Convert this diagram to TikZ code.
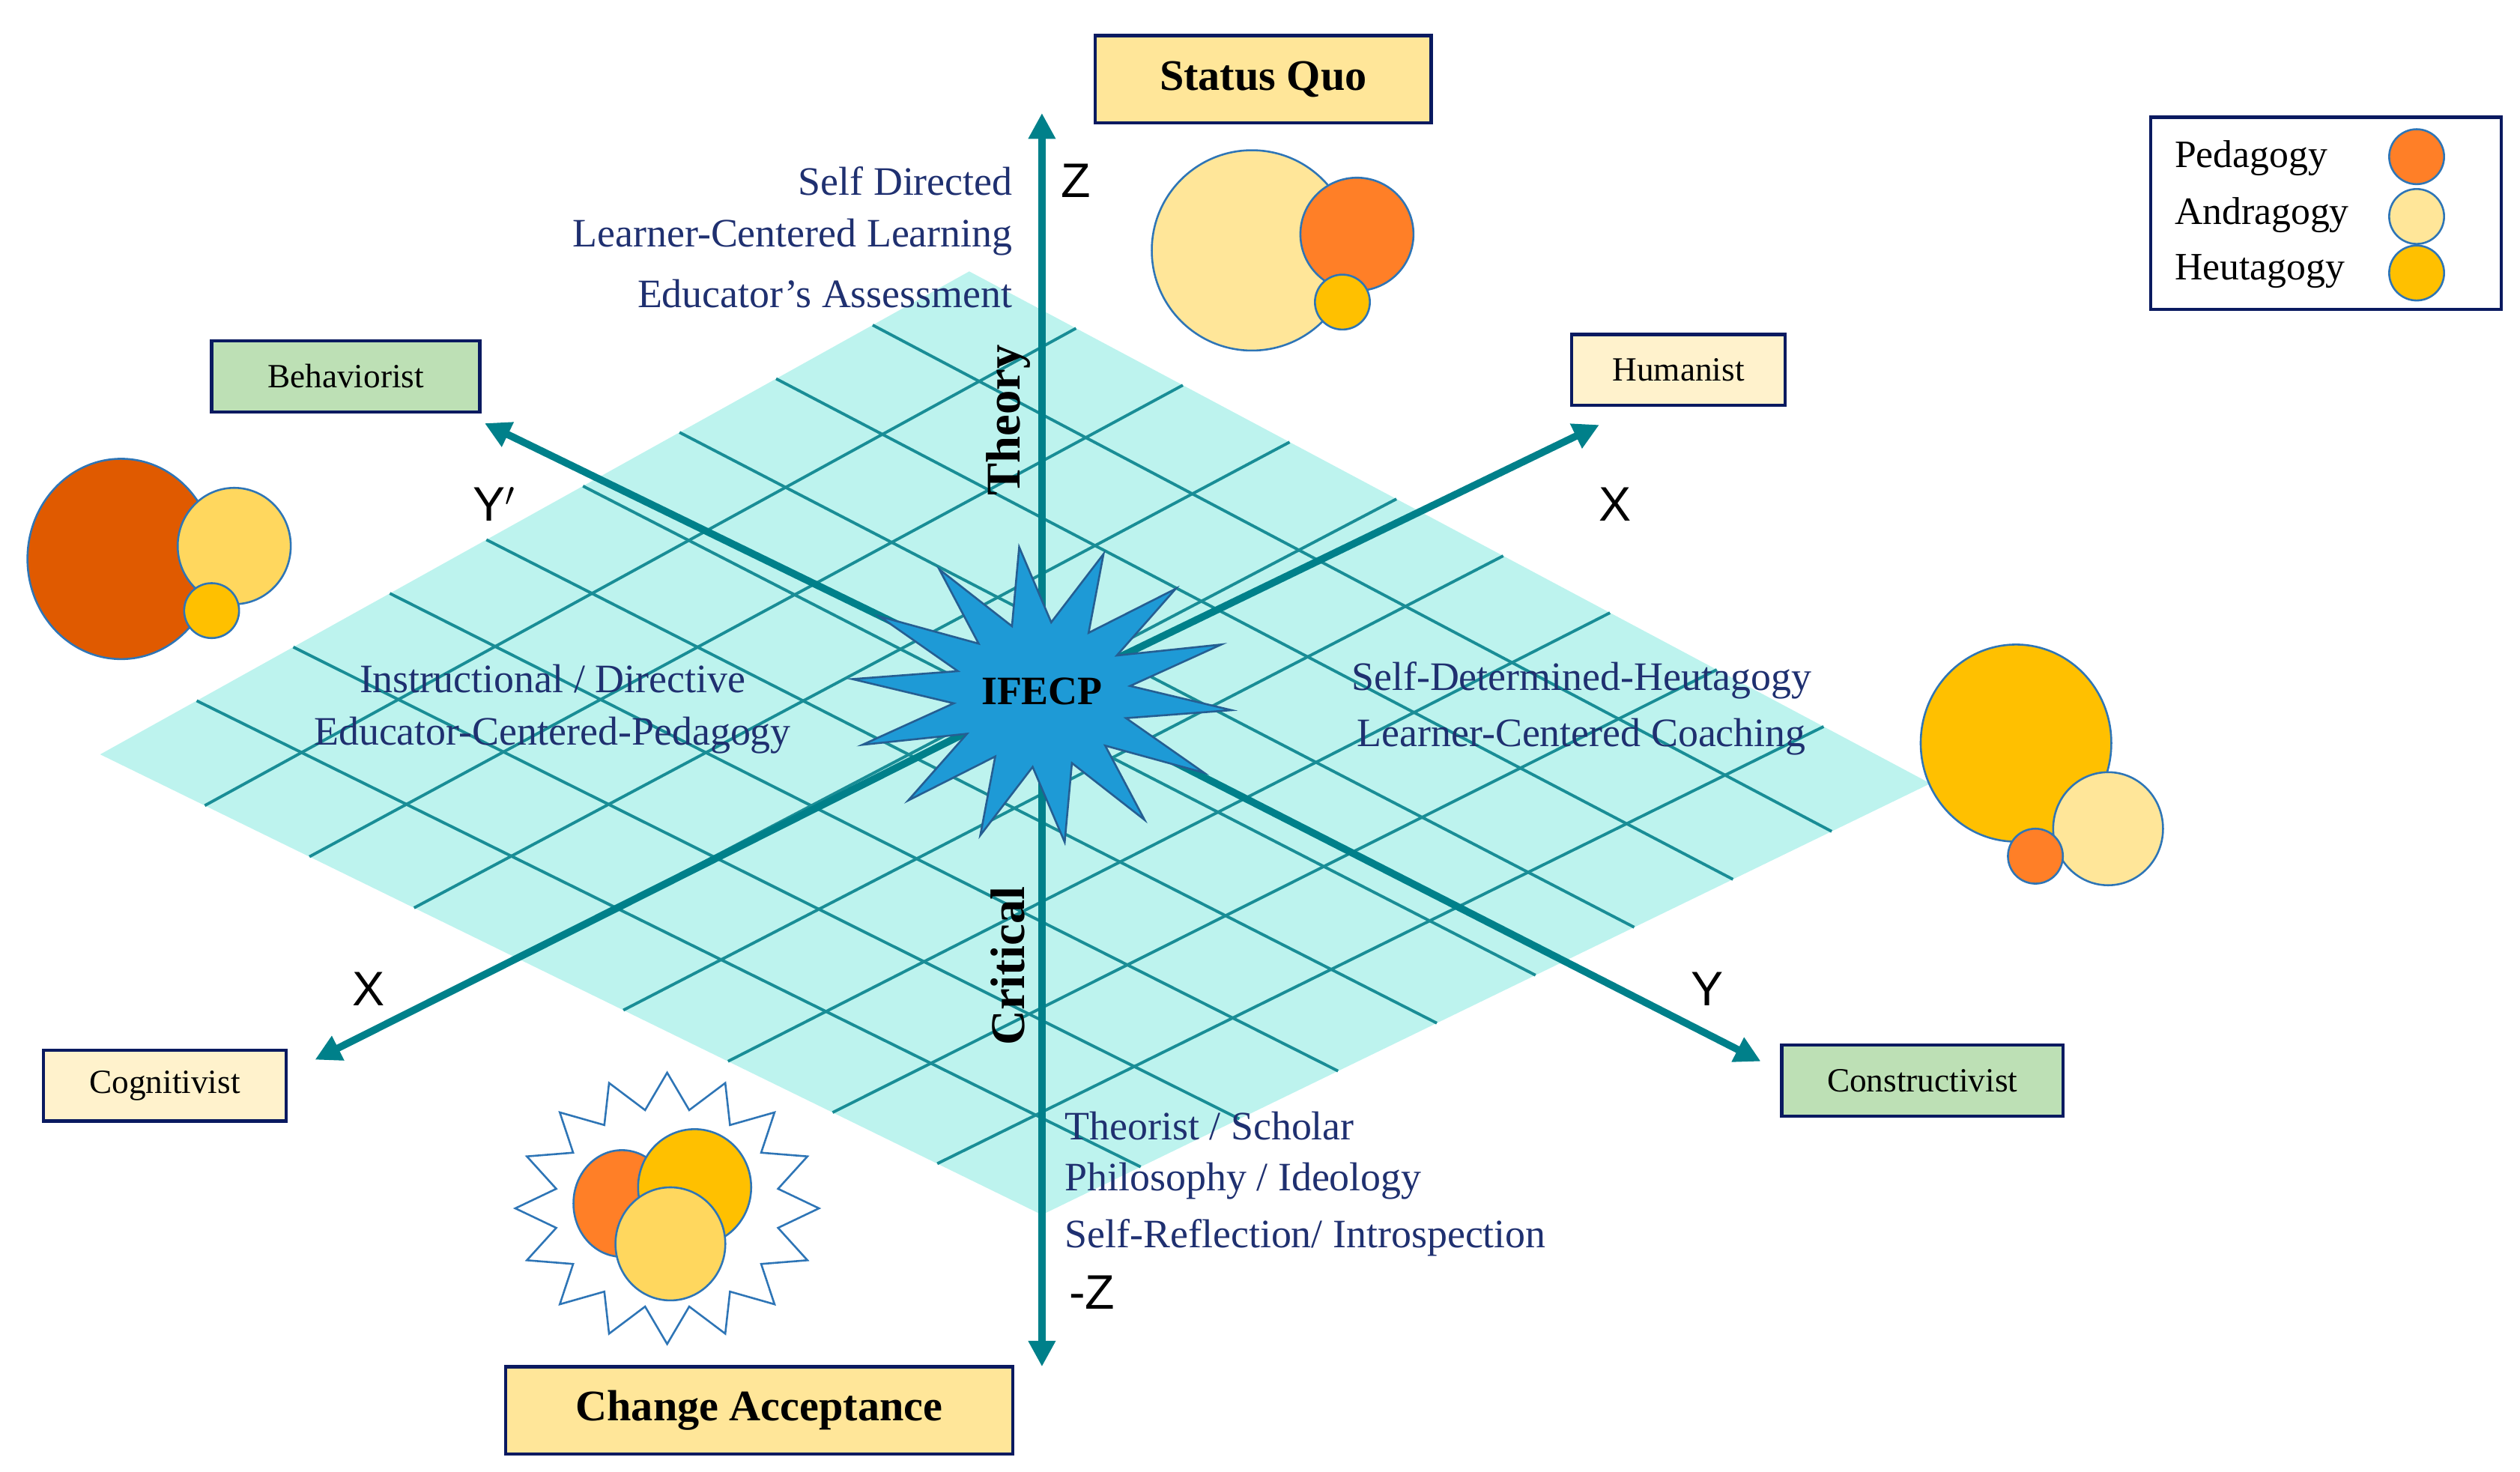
\documentclass[tikz,border=0pt]{standalone}
\usepackage{fontspec}
\setmainfont{Liberation Serif}
\newfontfamily\axfont{Liberation Sans}
\usetikzlibrary{calc,arrows.meta}
\definecolor{teal1}{HTML}{00808A}
\definecolor{plane}{HTML}{BDF3EE}
\definecolor{navy}{HTML}{1F3070}
\definecolor{navyb}{HTML}{0A1A60}
\definecolor{lyel}{HTML}{FFE699}
\definecolor{oran}{HTML}{FF7F27}
\definecolor{dora}{HTML}{E05A00}
\definecolor{gold}{HTML}{FFC000}
\definecolor{yel}{HTML}{FFD75E}
\definecolor{cream}{HTML}{FFF2CC}
\definecolor{lgreen}{HTML}{BDE0B5}
\definecolor{starblue}{HTML}{1E9AD6}
\definecolor{cline}{HTML}{2E75B6}
\tikzset{
  axisline/.style={line width=4.5pt,teal1,-{Triangle[length=16pt,width=16pt]}},
  gridline/.style={line width=1.8pt,teal1!90},
  lbox/.style={draw=navyb,line width=2pt,font=\fontsize{21}{24}\selectfont,inner sep=0pt,minimum height=44pt},
  bigbox/.style={draw=navyb,line width=2pt,fill=lyel,font=\bfseries\fontsize{27}{30}\selectfont,inner sep=0pt,minimum height=54pt},
  btext/.style={text=navy,font=\fontsize{25}{28}\selectfont,inner sep=0pt},
  axl/.style={font=\axfont\fontsize{30}{32}\selectfont,inner sep=0pt},
  circ/.style={draw=cline,line width=1.2pt},
  rot/.style={font=\bfseries\fontsize{30}{32}\selectfont,rotate=90,inner sep=0pt}
}
\begin{document}
\begin{tikzpicture}[x=1pt,y=-1pt]
\useasboundingbox (0,0) rectangle (1560,911);
% plane
\coordinate (L) at (62,467);
\coordinate (T) at (600,168);
\coordinate (R) at (1195,485);
\coordinate (B) at (645,752);
\fill[plane] (L)--(T)--(R)--(B)--cycle;
\foreach \i in {1,...,8}{
  \draw[gridline] ($(L)!\i/9!(B)$) -- ($(T)!\i/9!(R)$);
  \draw[gridline] ($(L)!\i/9!(T)$) -- ($(B)!\i/9!(R)$);
}
% axes
\coordinate (O) at (645,430);
\coordinate (Ztop) at (645,70);
\coordinate (Zbot) at (645,846);
\coordinate (Ybeh) at (300,262);
\coordinate (Xhum) at (990,263);
\coordinate (Xcog) at (195,656);
\coordinate (Ycon) at (1090,657);
\draw[axisline,{Triangle[length=16pt,width=16pt]}-{Triangle[length=16pt,width=16pt]}] (Zbot) -- (Ztop);
\draw[axisline] (O) -- (Ybeh);
\draw[axisline] (O) -- (Xhum);
\draw[axisline] (O) -- (Xcog);
\draw[axisline] (O) -- (Ycon);
% star
\draw[fill=starblue,draw=cline!80!black,line width=1.2pt,shift={(O)}]
  plot[samples=29,domain=0:28] ({cos(\x*360/28+6)*((mod(\x,2)==0)*118+(mod(\x,2)==1)*55)},{sin(\x*360/28+6)*((mod(\x,2)==0)*92+(mod(\x,2)==1)*45)}) -- cycle;
\node[font=\bfseries\fontsize{25}{28}\selectfont,inner sep=0pt] (ifecp) at (645,428) {IFECP};
\node[rot] (theory) at (624,260) {Theory};
\node[rot] (critical) at (624,598) {Critical};
% axis letters
\node[axl] (lz) at (666,112) {Z};
\node[axl] (lyp) at (306,312) {Y$'$};
\node[axl] (lxp) at (1000,312) {X};
\node[axl] (lx) at (228,612) {X};
\node[axl] (ly) at (1057,612) {Y};
\node[axl] (lmz) at (676,800) {-Z};
% boxes
\node[bigbox,minimum width=208pt] (sq) at (782,49) {Status Quo};
\node[bigbox,minimum width=314pt] (ca) at (470,873) {Change Acceptance};
\node[lbox,fill=lgreen,minimum width=166pt] (beh) at (214,233) {Behaviorist};
\node[lbox,fill=cream,minimum width=132pt] (hum) at (1039,229) {Humanist};
\node[lbox,fill=cream,minimum width=150pt] (cog) at (102,672) {Cognitivist};
\node[lbox,fill=lgreen,minimum width=174pt] (con) at (1190,669) {Constructivist};
% blue texts
\node[btext,anchor=east] (t1) at (627,112) {Self Directed};
\node[btext,anchor=east] (t2) at (627,147) {Learner-Centered Learning};
\node[btext,anchor=east] (t3) at (627,182) {Educator’s Assessment};
\node[btext] (l1) at (342,420) {Instructional / Directive};
\node[btext] (l2) at (342,455) {Educator-Centered-Pedagogy};
\node[btext] (r1) at (979,421) {Self-Determined-Heutagogy};
\node[btext] (r2) at (979,456) {Learner-Centered Coaching};
\node[btext,anchor=west] (b1) at (659,697) {Theorist / Scholar};
\node[btext,anchor=west] (b2) at (659,731) {Philosophy / Ideology};
\node[btext,anchor=west] (b3) at (659,766) {Self-Reflection/ Introspection};
% circle groups
\draw[circ,fill=lyel] (775,155) circle (62);
\draw[circ,fill=oran] (840,145) circle (35);
\draw[circ,fill=gold] (831,187) circle (17);
\draw[circ,fill=dora] (75,346) ellipse (58 and 62);
\draw[circ,fill=yel] (145,338) ellipse (35 and 36);
\draw[circ,fill=gold] (131,378) circle (17);
\draw[circ,fill=gold] (1248,460) ellipse (59 and 61);
\draw[circ,fill=lyel] (1305,513) ellipse (34 and 35);
\draw[circ,fill=oran] (1260,530) circle (17);
% sun
\draw[fill=white,draw=cline,line width=1.2pt,shift={(413,748)}]
  plot[samples=33,domain=0:32] ({cos(\x*360/32-90)*((mod(\x,2)==0)*94+(mod(\x,2)==1)*70)},{sin(\x*360/32-90)*((mod(\x,2)==0)*84+(mod(\x,2)==1)*62)}) -- cycle;
\draw[circ,fill=oran] (385,745) ellipse (30 and 33);
\draw[circ,fill=gold] (430,735) ellipse (35 and 36);
\draw[circ,fill=yel] (415,770) ellipse (34 and 35);
% legend
\node[draw=navyb,line width=2pt,minimum width=217pt,minimum height=119pt,inner sep=0pt] (leg) at (1440,132) {};
\node[font=\fontsize{24}{26}\selectfont,anchor=west,inner sep=0pt] (pg) at (1346,98) {Pedagogy};
\node[font=\fontsize{24}{26}\selectfont,anchor=west,inner sep=0pt] (ag) at (1346,133) {Andragogy};
\node[font=\fontsize{24}{26}\selectfont,anchor=west,inner sep=0pt] (hg) at (1346,168) {Heutagogy};
\draw[circ,fill=oran] (1496,97) circle (17);
\draw[circ,fill=lyel] (1496,134) circle (17);
\draw[circ,fill=gold] (1496,169) circle (17);
\end{tikzpicture}
\end{document}
